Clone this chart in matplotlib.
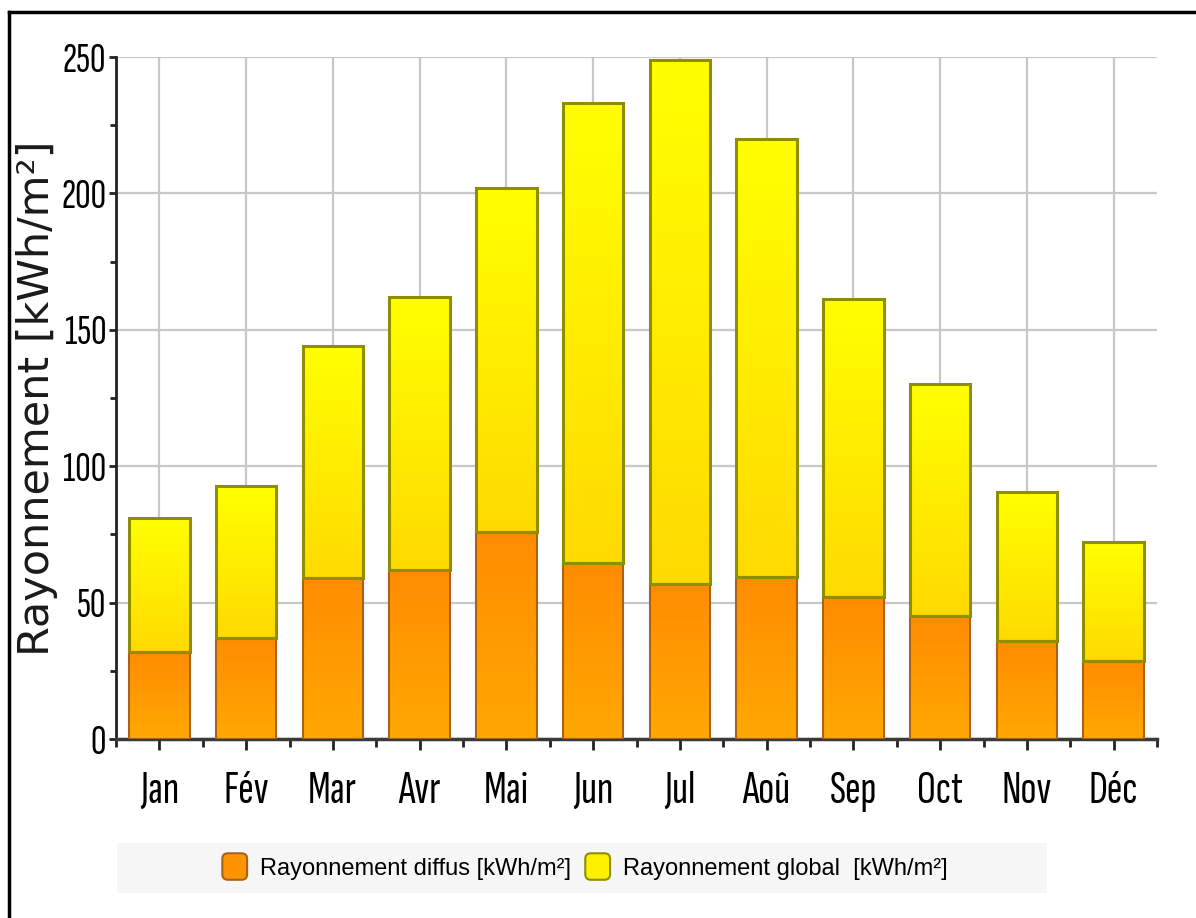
import matplotlib
matplotlib.use('Agg')
import matplotlib.pyplot as plt
import numpy as np
from matplotlib import font_manager
from matplotlib.colors import LinearSegmentedColormap
from matplotlib.lines import Line2D
from matplotlib.patches import Patch, Rectangle, FancyBboxPatch
from matplotlib.legend_handler import HandlerPatch
from matplotlib.ticker import MultipleLocator

# Monthly irradiation values (kWh/m²)
months = ['Jan', 'Fév', 'Mar', 'Avr', 'Mai', 'Jun', 'Jul', 'Aoû', 'Sep', 'Oct', 'Nov', 'Déc']
global_rad = [81, 92.7, 144, 162, 202, 233, 249, 220, 161.3, 130, 90.5, 72.2]
diffuse_rad = [32, 37, 59, 62, 76, 64.5, 57, 59.5, 52, 45, 36, 28.5]

label_diffuse = 'Rayonnement diffus [kWh/m²]'
label_global = 'Rayonnement global  [kWh/m²]'

# tall narrow face for the tick labels
names = {f.name for f in font_manager.fontManager.ttflist}
narrow = next((n for n in ['Sofia Sans Extra Condensed', 'Roboto Condensed',
                           'Fira Sans Extra Condensed', 'Liberation Sans Narrow']
               if n in names), 'DejaVu Sans')
legend_font = 'Liberation Sans' if 'Liberation Sans' in names else 'DejaVu Sans'

yellow_cmap = LinearSegmentedColormap.from_list('yel', ['#FFDA00', '#FFFF00'])
orange_cmap = LinearSegmentedColormap.from_list('ora', ['#FFA800', '#FF8C00'])
grad = np.linspace(0, 1, 256).reshape(-1, 1)

W, H = 1196, 918
fig = plt.figure(figsize=(W / 100, H / 100), dpi=100)
ax = fig.add_axes([116 / W, 1 - 739 / H, 1041 / W, 682 / H])

x = np.arange(len(months))
width = 0.7


def gradient_bars(xs, bottoms, tops, cmap, edge, lw):
    bars = ax.bar(xs, np.array(tops) - np.array(bottoms), width, bottom=bottoms,
                  facecolor='none', edgecolor=edge, linewidth=lw, zorder=4)
    for b in bars:
        x0, y0 = b.get_x(), b.get_y()
        im = ax.imshow(grad, cmap=cmap, aspect='auto', origin='lower',
                       extent=(x0, x0 + b.get_width(), y0, y0 + b.get_height()),
                       zorder=3, interpolation='bilinear')
        im.set_clip_path(b)
    return bars


gradient_bars(x, [0] * len(x), diffuse_rad, orange_cmap, '#A8621A', 1.5)
gradient_bars(x, diffuse_rad, global_rad, yellow_cmap, '#8E8E00', 2.2)

ax.set_xlim(-0.5, len(months) - 0.5)
ax.set_ylim(0, 250)

# grid and axes styling
ax.set_axisbelow(True)
ax.grid(True, color='#C8C8C8', linewidth=1.6)
for s in ['top', 'right']:
    ax.spines[s].set_visible(False)
ax.spines['bottom'].set_color('#3A3A3A')
ax.spines['bottom'].set_linewidth(2.5)
ax.spines['left'].set_color('#222222')
ax.spines['left'].set_linewidth(2)

ax.set_xticks(x)
ax.set_xticklabels(months)
ax.xaxis.set_minor_locator(MultipleLocator(1, offset=0.5))
ax.yaxis.set_major_locator(MultipleLocator(50))
ax.yaxis.set_minor_locator(MultipleLocator(25))

big = narrow != 'DejaVu Sans'
for lab in ax.get_xticklabels():
    lab.set_fontfamily(narrow)
    lab.set_fontsize(34 if big else 17)
for lab in ax.get_yticklabels():
    lab.set_fontfamily(narrow)
    lab.set_fontsize(31 if big else 16)

ax.tick_params(axis='x', which='major', length=8, width=2, color='#222222', pad=15)
ax.tick_params(axis='x', which='minor', length=6, width=2, color='#222222')
ax.tick_params(axis='y', which='major', length=5, width=2, color='#222222', pad=2)
ax.tick_params(axis='y', which='minor', length=4, width=2, color='#222222')

ax.set_ylabel('Rayonnement [kWh/m²]', fontfamily='DejaVu Sans', fontsize=31, color='#1a1a1a')
ax.yaxis.set_label_coords(-0.056, 0.5)

# legend strip
fig.patches.append(Rectangle((117 / W, 1 - 893 / H), 930 / W, 50 / H,
                             transform=fig.transFigure, facecolor='#F6F6F6',
                             edgecolor='none', zorder=0))


def round_box(legend, orig_handle, xdescent, ydescent, width, height, fontsize):
    return FancyBboxPatch((-xdescent, -ydescent - 0.15 * height), width, height * 1.3,
                          boxstyle='round,pad=0,rounding_size=4')


handles = [Patch(facecolor='#FF9400', edgecolor='#A8621A', linewidth=1.5),
           Patch(facecolor='#FFF000', edgecolor='#8E8E00', linewidth=1.5)]
fig.legend(handles, [label_diffuse, label_global], loc='center',
           bbox_to_anchor=(585 / W, 1 - 868 / H), ncol=2, frameon=False,
           prop={'family': legend_font, 'size': 17}, handlelength=1.05,
           handleheight=0.95, handletextpad=0.55, columnspacing=0.6,
           handler_map={Patch: HandlerPatch(patch_func=round_box)})

# outer frame lines
fig.add_artist(Line2D([9 / W, 1], [1 - 12 / H, 1 - 12 / H], transform=fig.transFigure,
                      color='black', linewidth=2.5))
fig.add_artist(Line2D([9 / W, 9 / W], [0, 1 - 12 / H], transform=fig.transFigure,
                      color='black', linewidth=2.5))

fig.savefig('out.png', dpi=100)
